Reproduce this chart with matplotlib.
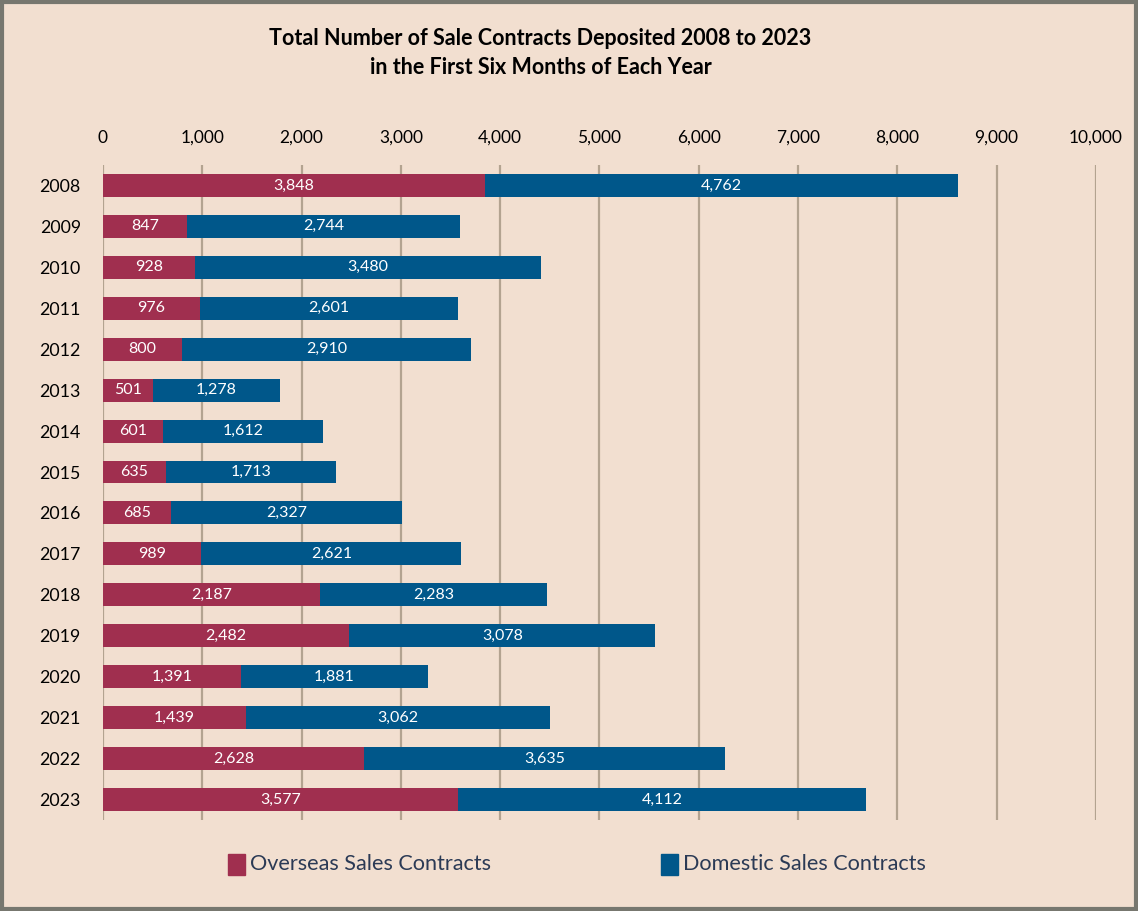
import matplotlib.pyplot as plt
from matplotlib.patches import Rectangle
import numpy as np

plt.rcParams["font.family"] = ["Lato", "DejaVu Sans"]

years = ["2008", "2009", "2010", "2011", "2012", "2013", "2014", "2015",
         "2016", "2017", "2018", "2019", "2020", "2021", "2022", "2023"]
overseas = [3848, 847, 928, 976, 800, 501, 601, 635,
            685, 989, 2187, 2482, 1391, 1439, 2628, 3577]
domestic = [4762, 2744, 3480, 2601, 2910, 1278, 1612, 1713,
            2327, 2621, 2283, 3078, 1881, 3062, 3635, 4112]
xticks = list(range(0, 10001, 1000))

BG = "#F2DFD0"
RED = "#A02F4F"
BLUE = "#00578A"
GRID = "#B3A390"

fig = plt.figure(figsize=(11.38, 9.11), dpi=100, facecolor=BG)
ax = fig.add_axes([0.0905, 0.0999, 0.8725, 0.719])
ax.set_facecolor(BG)

y = np.arange(len(years))
h = 0.56
ax.barh(y, overseas, height=h, color=RED, zorder=3)
ax.barh(y, domestic, left=overseas, height=h, color=BLUE, zorder=3)

for i in range(len(years)):
    ax.text(overseas[i] / 2, y[i], f"{overseas[i]:,}", color="white",
            ha="center", va="center", fontsize=11.5, zorder=4)
    ax.text(overseas[i] + domestic[i] / 2, y[i], f"{domestic[i]:,}",
            color="white", ha="center", va="center", fontsize=11.5, zorder=4)

ax.set_xlim(0, 10000)
ax.set_ylim(len(years) - 0.5, -0.5)
ax.set_xticks(xticks)
ax.set_xticklabels([f"{v:,}" for v in xticks], fontsize=12.5)
ax.xaxis.tick_top()
ax.set_yticks(y)
ax.set_yticklabels(years, fontsize=12.8)
ax.tick_params(axis="both", length=0, pad=14)
ax.tick_params(axis="y", pad=16)
ax.grid(axis="x", color=GRID, linewidth=1.6, zorder=0)
for s in ax.spines.values():
    s.set_visible(False)

fig.text(0.475, 0.958, "Total Number of Sale Contracts Deposited 2008 to 2023",
         ha="center", va="center", fontsize=15.5, fontweight="bold")
fig.text(0.475, 0.926, "in the First Six Months of Each Year",
         ha="center", va="center", fontsize=15.5, fontweight="bold")

# legend
lx = [(228, "Overseas Sales Contracts", RED), (661, "Domestic Sales Contracts", BLUE)]
for px, label, c in lx:
    fig.patches.append(Rectangle((px / 1138, 1 - 875 / 911), 17 / 1138, 21 / 911,
                                 transform=fig.transFigure, color=c))
    fig.text((px + 22) / 1138, 1 - 864 / 911, label, ha="left", va="center",
             fontsize=15.6, color="#2B3A55")

fig.patches.append(Rectangle((0.0015, 0.002), 0.997, 0.996, transform=fig.transFigure,
                             fill=False, edgecolor="#77776F", linewidth=3))

fig.savefig("out.png", dpi=100, facecolor=BG)
